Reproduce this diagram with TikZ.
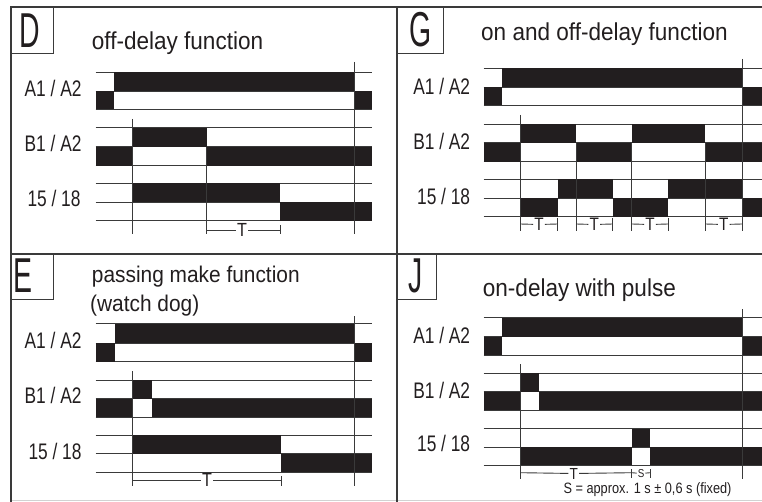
\documentclass[tikz,border=0pt]{standalone}
\usepackage{fontspec}
\setmainfont{Liberation Sans}
\newfontfamily\titlefont{Liberation Sans}[FakeStretch=0.92]
\newfontfamily\labfont{Liberation Sans}[FakeStretch=0.77]
\newfontfamily\bigfont{Liberation Sans}[FakeStretch=0.58]
\newfontfamily\markfont{Liberation Sans}[FakeStretch=0.85]
\definecolor{ink}{HTML}{221E1F}
\definecolor{rulec}{HTML}{3A3A3A}
\begin{document}
\begin{tikzpicture}[x=1pt,y=-1pt,
  frame/.style={draw=rulec,line width=1.6pt},
  lbox/.style={draw=rulec,line width=1pt},
  grid/.style={draw=rulec,line width=0.9pt},
  vline/.style={draw=rulec,line width=0.9pt},
  sig/.style={fill=ink},
  lab/.style={font=\labfont\fontsize{22.5}{22.5}\selectfont,anchor=east,inner sep=0pt,text=ink},
  ttl/.style={font=\titlefont\fontsize{24.5}{24.5}\selectfont,anchor=base west,inner sep=0pt,text=ink},
  ttlE/.style={font=\titlefont\fontsize{22.7}{22.7}\selectfont,anchor=base west,inner sep=0pt,text=ink},
  big/.style={font=\bigfont\fontsize{49}{49}\selectfont,anchor=base,inner sep=0pt,text=ink},
  tmark/.style={font=\markfont\fontsize{19}{19}\selectfont,inner sep=1pt,text=ink},
  tmarkG/.style={font=\markfont\fontsize{18}{18}\selectfont,inner sep=1pt,text=ink},
  tmarkJ/.style={font=\markfont\fontsize{16}{16}\selectfont,inner sep=1pt,text=ink},
  smark/.style={font=\markfont\fontsize{11.5}{11.5}\selectfont,inner sep=1pt,text=ink},
  note/.style={font=\markfont\fontsize{15}{15}\selectfont,inner sep=0pt,text=ink}]
\useasboundingbox (0,0) rectangle (762,502);

% ---------------- frame ----------------
\draw[gray!35,line width=0.8pt] (10.7,500.5) -- (762,500.5);
\draw[frame] (10.7,502) -- (10.7,7.3) -- (762,7.3);
\draw[frame] (396.7,7.3) -- (396.7,502);
\draw[frame] (10.7,254.3) -- (762,254.3);
\draw[lbox] (10.7,53.3) -- (53.3,53.3) -- (53.3,7.3);
\draw[lbox] (396.7,53.3) -- (443.3,53.3) -- (443.3,7.3);
\draw[lbox] (10.7,299.3) -- (53.3,299.3) -- (53.3,254.3);
\draw[lbox] (396.7,299.3) -- (436.7,299.3) -- (436.7,254.3);

% ---------------- Panel D ----------------
\node[big] (dL) at (29.9,47.3) {D};
\node[ttl] (dT) at (91.7,50) {off-delay function};
\node[lab] (dA) at (81.7,88.3) {A1 / A2};
\node[lab] (dB) at (81.7,143.3) {B1 / A2};
\node[lab] (dC) at (80.7,198.3) {15 / 18};
\foreach \y in {72.3,91,109.5,127.7,146.7,165.7,183.3,202,220.7}
  \draw[grid] (95.7,\y) -- (372.3,\y);
\fill[sig] (95.7,91) rectangle (114,109.5);
\fill[sig] (114,72.3) rectangle (354,91);
\fill[sig] (354,91) rectangle (372.3,109.5);
\fill[sig] (95.7,146.7) rectangle (132.7,165.7);
\fill[sig] (132.7,127.7) rectangle (206.7,146.7);
\fill[sig] (206.7,146.7) rectangle (372.3,165.7);
\fill[sig] (132.7,183.3) rectangle (280,202);
\fill[sig] (280,202) rectangle (372.3,220.7);
\draw[vline] (132.7,119) -- (132.7,234);
\draw[vline] (354,62) -- (354,234);
\draw[vline] (206.7,146.7) -- (206.7,234);
\draw[vline] (280,225) -- (280,234);
\coordinate (dTa) at (206.7,230);
\coordinate (dTb) at (280,230);
\node[tmark] (dTT) at (242,230) {T};
\draw[vline] (dTa) -- (dTT) -- (dTb);

% ---------------- Panel E ----------------
\node[big] (eL) at (23,292.7) {E};
\node[ttlE] (eT1) at (91.7,282.7) {passing make function};
\node[ttlE] (eT2) at (90,312) {(watch dog)};
\node[lab] (eA) at (81.7,340.7) {A1 / A2};
\node[lab] (eB) at (81.7,395.7) {B1 / A2};
\node[lab] (eC) at (81.7,451.5) {15 / 18};
\foreach \y in {323.7,343,361.7,380,398.5,417,435,453.7,472.3}
  \draw[grid] (95.7,\y) -- (372.3,\y);
\fill[sig] (95.7,343) rectangle (114.5,361.7);
\fill[sig] (114.5,323.7) rectangle (354,343);
\fill[sig] (354,343) rectangle (372.3,361.7);
\fill[sig] (95.7,398.5) rectangle (132.7,417);
\fill[sig] (132.7,380) rectangle (151.7,398.5);
\fill[sig] (151.7,398.5) rectangle (372.3,417);
\fill[sig] (132.7,435) rectangle (281,453.7);
\fill[sig] (281,453.7) rectangle (372.3,472.3);
\draw[vline] (132.7,371) -- (132.7,486);
\draw[vline] (354,316) -- (354,486);
\draw[vline] (281,476) -- (281,486);
\coordinate (eTa) at (132.7,480.3);
\coordinate (eTb) at (281,480.3);
\node[tmark] (eTT) at (207,480.3) {T};
\draw[vline] (eTa) -- (eTT) -- (eTb);

% ---------------- Panel G ----------------
\node[big] (gL) at (420.7,46.5) {G};
\node[ttl] (gT) at (481,40.7) {on and off-delay function};
\node[lab] (gA) at (470.3,86.5) {A1 / A2};
\node[lab] (gB) at (470.3,141.7) {B1 / A2};
\node[lab] (gC) at (470.3,196) {15 / 18};
\foreach \y in {68.3,87.3,105.3,124,142.7,161.7,179.5,198,216.7}
  \draw[grid] (483.7,\y) -- (762,\y);
\fill[sig] (483.7,87.3) rectangle (501.7,105.3);
\fill[sig] (501.7,68.3) rectangle (742,87.3);
\fill[sig] (742,87.3) rectangle (762,105.3);
\fill[sig] (483.7,142.7) rectangle (520.3,161.7);
\fill[sig] (520.3,124) rectangle (576,142.7);
\fill[sig] (576,142.7) rectangle (631.7,161.7);
\fill[sig] (631.7,124) rectangle (705.3,142.7);
\fill[sig] (705.3,142.7) rectangle (762,161.7);
\fill[sig] (520.3,198) rectangle (557.7,216.7);
\fill[sig] (557.7,179.5) rectangle (612.7,198);
\fill[sig] (612.7,198) rectangle (668.3,216.7);
\fill[sig] (668.3,179.5) rectangle (742,198);
\fill[sig] (742,198) rectangle (762,216.7);
\draw[vline] (520.3,115) -- (520.3,230.7);
\draw[vline] (742,59) -- (742,230.7);
\foreach \x in {576,631.7,705.3}
  \draw[vline] (\x,142.7) -- (\x,230.7);
\foreach \x in {557.7,612.7,668.3}
  \draw[vline] (\x,218) -- (\x,230.7);
\coordinate (g1a) at (520.3,224); \coordinate (g1b) at (557.7,224);
\coordinate (g2a) at (576,224);   \coordinate (g2b) at (612.7,224);
\coordinate (g3a) at (631.7,224); \coordinate (g3b) at (668.3,224);
\coordinate (g4a) at (705.3,224); \coordinate (g4b) at (742,224);
\node[tmarkG] (g1T) at (539,224.5) {T};
\node[tmarkG] (g2T) at (594.3,224.5) {T};
\node[tmarkG] (g3T) at (650,224.5) {T};
\node[tmarkG] (g4T) at (723.7,224.5) {T};
\draw[vline] (g1a) -- (g1T) -- (g1b);
\draw[vline] (g2a) -- (g2T) -- (g2b);
\draw[vline] (g3a) -- (g3T) -- (g3b);
\draw[vline] (g4a) -- (g4T) -- (g4b);

% ---------------- Panel J ----------------
\node[big] (jL) at (415.8,293) {J};
\node[ttl] (jT) at (482.7,296) {on-delay with pulse};
\node[lab] (jA) at (470.3,335.2) {A1 / A2};
\node[lab] (jB) at (470.3,390.2) {B1 / A2};
\node[lab] (jC) at (470.3,443.5) {15 / 18};
\foreach \y in {317.7,336.7,355,373.3,391.7,410,428.7,447,465.3}
  \draw[grid] (483.7,\y) -- (762,\y);
\fill[sig] (483.7,336.7) rectangle (502,355);
\fill[sig] (502,317.7) rectangle (742.7,336.7);
\fill[sig] (742.7,336.7) rectangle (762,355);
\fill[sig] (483.7,391.7) rectangle (520.3,410);
\fill[sig] (520.3,373.3) rectangle (539.3,391.7);
\fill[sig] (539.3,391.7) rectangle (762,410);
\fill[sig] (520.3,447) rectangle (631.7,465.3);
\fill[sig] (631.7,428.7) rectangle (650.3,447);
\fill[sig] (650.3,447) rectangle (762,465.3);
\draw[vline] (520.3,364.3) -- (520.3,479.3);
\draw[vline] (742.7,309.3) -- (742.7,479.3);
\draw[vline] (631.7,469) -- (631.7,478);
\draw[vline] (650.3,469) -- (650.3,478);
\coordinate (jTa) at (520.3,472.7);
\coordinate (jTb) at (631.7,472.7);
\coordinate (jSb) at (650.3,472.7);
\node[tmarkJ] (jTT) at (573.7,473.5) {T};
\node[smark] (jSS) at (641,473.5) {S};
\draw[vline] (jTa) -- (jTT) -- (jTb) -- (jSS) -- (jSb);
\node[note] (jN) at (647.5,490) {S = approx. 1 s ± 0,6 s (fixed)};
\end{tikzpicture}
\end{document}
